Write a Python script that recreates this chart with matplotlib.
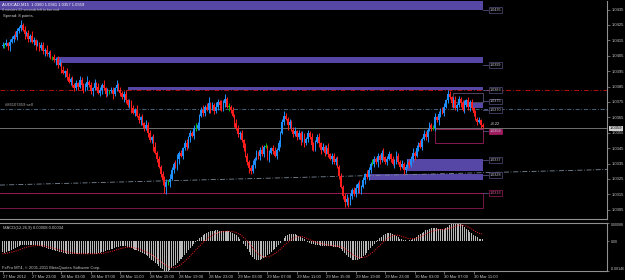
import matplotlib

matplotlib.use("Agg")

import matplotlib.pyplot as plt
import matplotlib.transforms as mtransforms
import numpy as np
from matplotlib.patches import Rectangle

W, H = 625, 280

# AUDCAD M15 bars, prices in pips above 1.0300 (open = previous close)
first_open = 111
closes = [
    112, 112, 113, 111, 114, 116, 118, 117, 121, 123,
    125, 122, 119, 120, 116, 118, 114, 115, 112, 113,
    110, 112, 108, 109, 106, 107, 104, 104, 102, 103,
    99, 100, 96, 94, 95, 91, 88, 90, 86, 84,
    87, 85, 89, 86, 83, 85, 88, 86, 82, 84,
    87, 85, 81, 83, 86, 84, 80, 82, 82, 83,
    80, 84, 86, 83, 81, 78, 80, 76, 73, 75,
    71, 68, 70, 66, 63, 65, 61, 58, 60, 55,
    50, 52, 46, 42, 38, 33, 28, 24, 20, 23,
    23, 25, 31, 35, 33, 38, 42, 40, 45, 48,
    46, 52, 55, 53, 58, 58, 60, 66, 70, 68,
    72, 70, 74, 71, 73, 69, 72, 75, 73, 70,
    74, 77, 72, 72, 70, 66, 61, 58, 54, 55,
    50, 45, 40, 36, 32, 30, 34, 38, 42, 40,
    44, 41, 46, 46, 39, 42, 45, 43, 40, 44,
    48, 55, 62, 66, 64, 60, 62, 57, 54, 56,
    52, 55, 50, 53, 48, 51, 55, 52, 47, 45,
    49, 52, 48, 44, 46, 42, 45, 41, 38, 40,
    36, 38, 33, 27, 20, 14, 10, 12, 9, 14,
    18, 15, 19, 22, 17, 20, 24, 28, 26, 31,
    35, 35, 38, 36, 40, 37, 42, 39, 36, 38,
    41, 38, 35, 37, 40, 36, 33, 35, 31, 33,
    36, 34, 38, 42, 40, 45, 48, 46, 51, 54,
    52, 57, 60, 58, 58, 65, 63, 67, 70, 68,
    72, 76, 80, 78, 74, 76, 71, 73, 77, 74,
    70, 73, 76, 72, 75, 71, 68, 64, 62, 63,
    60, 59,
]
wick_up = [
    2, 1, 3, 1, 2, 2, 1, 3, 2, 1, 3, 1, 2, 1, 2, 1, 3, 2, 1, 2,
    1, 2, 2, 1, 3, 1, 2, 1, 2, 1, 2, 3, 1, 2, 1, 2, 3, 1, 2, 1,
    2, 1, 3, 2, 1, 2, 4, 1, 2, 1, 3, 1, 2, 2, 1, 3, 1, 2, 1, 2,
    2, 1, 3, 1, 2, 1, 2, 3, 1, 2, 1, 2, 1, 3, 2, 1, 2, 1, 3, 2,
    2, 1, 2, 3, 1, 2, 1, 2, 3, 2, 1, 3, 2, 1, 2, 3, 1, 2, 1, 2,
    3, 1, 2, 1, 2, 3, 2, 1, 2, 3, 1, 2, 4, 1, 2, 1, 3, 2, 1, 3,
    2, 3, 1, 2, 1, 2, 1, 3, 2, 1, 2, 1, 3, 2, 1, 2, 3, 1, 2, 1,
    2, 3, 1, 2, 1, 2, 1, 2, 3, 1, 2, 1, 2, 3, 2, 1, 2, 1, 2, 3,
    1, 2, 1, 3, 2, 1, 2, 1, 3, 2, 1, 2, 3, 1, 2, 1, 2, 3, 1, 2,
    2, 1, 2, 1, 2, 1, 2, 3, 1, 2, 1, 2, 3, 1, 2, 1, 2, 1, 3, 2,
    1, 3, 2, 1, 2, 1, 2, 3, 1, 2, 2, 1, 2, 1, 3, 2, 1, 2, 1, 2,
    2, 1, 2, 3, 1, 2, 1, 2, 1, 3, 2, 1, 2, 1, 2, 3, 1, 2, 1, 2,
    2, 1, 3, 2, 1, 2, 3, 1, 2, 1, 2, 3, 1, 2, 1, 2, 1, 2, 1, 2,
    1, 1,
]
wick_dn = [
    1, 2, 1, 2, 3, 1, 2, 1, 2, 1, 2, 1, 3, 1, 2, 2, 1, 2, 3, 1,
    2, 1, 2, 3, 1, 2, 1, 2, 1, 3, 2, 1, 2, 1, 3, 2, 1, 2, 1, 2,
    1, 2, 1, 3, 2, 1, 2, 1, 2, 3, 1, 2, 1, 2, 3, 1, 2, 1, 2, 1,
    3, 1, 2, 1, 2, 1, 3, 2, 1, 2, 3, 1, 2, 1, 2, 3, 1, 2, 1, 3,
    1, 2, 3, 1, 2, 1, 2, 3, 4, 5, 2, 3, 1, 2, 1, 2, 3, 1, 2, 1,
    2, 1, 3, 1, 2, 2, 1, 3, 1, 2, 2, 1, 2, 3, 1, 2, 1, 2, 3, 1,
    1, 2, 1, 3, 2, 1, 2, 1, 2, 3, 1, 2, 1, 2, 3, 2, 1, 2, 1, 2,
    3, 1, 2, 1, 2, 3, 1, 2, 1, 2, 1, 2, 1, 2, 1, 3, 2, 1, 2, 1,
    2, 1, 3, 1, 2, 1, 2, 1, 3, 2, 2, 1, 2, 3, 1, 2, 1, 2, 1, 3,
    1, 2, 1, 2, 1, 2, 3, 2, 2, 1, 2, 1, 2, 3, 1, 2, 1, 2, 1, 2,
    2, 1, 2, 1, 3, 2, 1, 2, 1, 2, 1, 2, 1, 3, 2, 1, 2, 1, 3, 2,
    1, 2, 1, 2, 3, 1, 2, 1, 2, 1, 2, 3, 1, 2, 1, 2, 1, 3, 2, 1,
    2, 1, 2, 1, 2, 3, 1, 2, 1, 2, 1, 2, 1, 2, 3, 1, 2, 1, 2, 1,
    2, 1,
]

# MACD(12,26,9) main and signal, units of 0.00001
macd_main = [
    -55, -56, -52, -50, -47, -44, -40, -36, -30, -25,
    -20, -18, -17, -17, -18, -18, -19, -20, -21, -22,
    -24, -26, -28, -31, -34, -37, -40, -42, -45, -47,
    -50, -52, -55, -58, -60, -62, -63, -64, -64, -65,
    -64, -63, -62, -61, -62, -62, -61, -60, -61, -62,
    -62, -61, -60, -58, -55, -52, -49, -46, -43, -40,
    -37, -34, -30, -28, -26, -24, -23, -24, -27, -30,
    -34, -38, -42, -46, -50, -54, -58, -63, -68, -74,
    -82, -90, -98, -106, -114, -122, -130, -138, -144, -146,
    -144, -140, -132, -124, -115, -106, -96, -86, -76, -66,
    -56, -46, -36, -26, -16, -6, 4, 14, 22, 30,
    36, 41, 45, 48, 50, 51, 52, 52, 51, 50,
    50, 51, 50, 47, 44, 40, 35, 28, 20, 10,
    0, -12, -26, -40, -55, -68, -80, -88, -93, -94,
    -92, -88, -82, -76, -70, -62, -54, -46, -38, -30,
    -20, -10, 2, 14, 24, 30, 34, 36, 35, 33,
    30, 26, 20, 14, 8, 2, -4, -8, -12, -15,
    -18, -20, -21, -22, -22, -23, -24, -25, -26, -26,
    -27, -28, -30, -34, -40, -48, -58, -68, -76, -84,
    -90, -93, -94, -92, -88, -82, -74, -66, -56, -46,
    -36, -26, -16, -6, 4, 14, 22, 30, 36, 40,
    41, 40, 36, 30, 24, 18, 12, 8, 5, 3,
    2, 3, 6, 10, 16, 22, 28, 34, 40, 46,
    52, 56, 60, 62, 64, 64, 62, 60, 58, 57,
    58, 62, 68, 76, 82, 86, 88, 88, 86, 82,
    76, 68, 60, 52, 44, 38, 30, 24, 18, 12,
    10, 8,
]
macd_signal = [
    -62, -61, -60, -58, -56, -54, -52, -49, -46, -43,
    -40, -36, -33, -30, -28, -26, -24, -23, -22, -22,
    -22, -23, -24, -25, -27, -29, -31, -33, -36, -38,
    -41, -43, -46, -48, -50, -53, -55, -57, -58, -60,
    -61, -61, -62, -62, -62, -62, -62, -62, -62, -62,
    -62, -62, -61, -61, -60, -59, -57, -55, -53, -51,
    -48, -46, -43, -40, -37, -35, -33, -31, -30, -30,
    -31, -32, -34, -36, -39, -42, -45, -48, -52, -56,
    -61, -67, -73, -79, -86, -93, -100, -107, -114, -120,
    -125, -128, -130, -130, -128, -125, -120, -114, -107, -99,
    -91, -82, -73, -63, -54, -44, -34, -25, -16, -7,
    1, 9, 16, 22, 28, 33, 37, 40, 43, 45,
    46, 47, 48, 48, 47, 46, 44, 41, 37, 32,
    26, 18, 10, 0, -10, -22, -33, -44, -54, -62,
    -69, -74, -77, -78, -78, -76, -72, -67, -61, -55,
    -48, -40, -32, -23, -14, -6, 2, 9, 14, 18,
    21, 22, 22, 21, 18, 15, 11, 7, 3, -1,
    -4, -7, -10, -12, -14, -16, -18, -19, -21, -22,
    -23, -24, -25, -27, -29, -32, -37, -43, -50, -57,
    -64, -70, -75, -79, -81, -81, -80, -78, -74, -69,
    -63, -56, -48, -40, -31, -22, -13, -4, 4, 12,
    18, 23, 27, 28, 29, 28, 26, 23, 20, 17,
    14, 12, 11, 11, 12, 14, 17, 21, 25, 29,
    34, 38, 42, 46, 49, 52, 54, 55, 56, 56,
    57, 58, 60, 62, 65, 68, 72, 75, 77, 78,
    78, 76, 73, 69, 64, 59, 53, 47, 42, 38,
    36, 34,
]

time_labels = [
    "27 Mar 2012", "27 Mar 23:00", "28 Mar 03:00", "28 Mar 07:00", "28 Mar 11:00",
    "28 Mar 15:00", "28 Mar 19:00", "28 Mar 23:00", "29 Mar 03:00", "29 Mar 07:00",
    "29 Mar 11:00", "29 Mar 15:00", "29 Mar 19:00", "29 Mar 23:00", "30 Mar 03:00",
    "30 Mar 07:00", "30 Mar 11:00",
]
price_ticks = [1.0435, 1.0425, 1.0415, 1.0405, 1.0395, 1.0385, 1.0375,
               1.0365, 1.0355, 1.0345, 1.0335, 1.0325, 1.0315, 1.0305]
macd_ticks = [0.00088, 0.0, -0.00146]
macd_tick_labels = ["0.00088", "0.00", "-0.00146"]

# supply / demand zones: start bar, low, high
zone_start = [-2, 29.6, 68.2, 199.7, 219.8, 255.2]
zone_low = [1.0435, 1.0400, 1.0383, 1.0324, 1.0330, 1.0371]
zone_high = [1.0444, 1.0404, 1.0385, 1.0328, 1.0338, 1.0374]
box_start = [244.8, 235.0, -2]
box_low = [1.0375, 1.03486, 1.03058]
box_high = [1.03808, 1.03574, 1.03158]
zone_end = 261.2
level_prices = [1.04347, 1.0399, 1.03827, 1.03753, 1.03697, 1.03558, 1.03373, 1.03276, 1.03158]
level_texts = ["1.0435", "1.0399", "1.0383", "1.0375", "1.0370", "1.0356", "1.0337", "1.0328", "1.0316"]
sr_level = 1.03827
order_level = 1.03704
bid_price = 1.03578
trend_from = (-1.36, 1.03210)
trend_to = (328.5, 1.03311)

plt.rcParams["font.family"] = ["Liberation Sans", "DejaVu Sans"]
FS = 3.0
GRAY = "#a8a8a8"
PURPLE = "#5646a6"


def box(x0, y0, x1, y1):
    return [x0 / W, 1 - y1 / H, (x1 - x0) / W, (y1 - y0) / H]


def ftext(x, y, s, size=FS, **kw):
    fig.text(x / W, 1 - y / H, s, va="center", ha="left", fontsize=size, **kw)


def price_at(y):
    return 1.0435 - (y - 9.5) / 15400


fig = plt.figure(figsize=(W / 100, H / 100), dpi=100, facecolor="black")

ax = fig.add_axes(box(0, 1, 607, 219))
ax.set_facecolor("black")
ax.set_xlim(-1.36, 328.5)
ax.set_ylim(price_at(219), price_at(1))

n = len(closes)
x = np.arange(n)
c = 1.03 + np.array(closes) / 1e4
o = 1.03 + np.array([first_open] + closes[:-1]) / 1e4
top = np.maximum(o, c)
bot = np.minimum(o, c)
hi = top + np.array(wick_up) / 1e4
lo = bot - np.array(wick_dn) / 1e4
cols = np.where(c > o, "#1e8fff", np.where(c < o, "#ff1e1e", "#00c000"))

for s, lo_, hi_ in zip(zone_start, zone_low, zone_high):
    ax.add_patch(Rectangle((s, lo_), zone_end - s, hi_ - lo_, facecolor=PURPLE, edgecolor="none", zorder=1))
box_colors = ["#5a5070", "#9a1e5e", "#8a1a50"]
for s, lo_, hi_, bc in zip(box_start, box_low, box_high, box_colors):
    ax.add_patch(Rectangle((s, lo_), zone_end - s, hi_ - lo_, facecolor="none", edgecolor=bc, lw=0.6, zorder=1))
ax.plot([-2, zone_end], [box_high[2], box_high[2]], color="#c02070", lw=0.6, ls=(0, (1, 1)), zorder=1)

ax.axhline(sr_level, color="#b01010", lw=0.7, ls=(0, (5, 2, 1, 2)), zorder=2)
ax.axhline(order_level, color="#4f7090", lw=0.6, ls=(0, (5, 2, 1, 2)), zorder=2)
ax.axhline(bid_price, color="#707070", lw=0.7, zorder=2)
ax.plot([trend_from[0], trend_to[0]], [trend_from[1], trend_to[1]], color="#7a8a9a", lw=0.6,
        ls=(0, (6, 2, 1, 2)), zorder=2)

ax.vlines(x, lo, hi, colors=cols, lw=0.7, zorder=3)
ax.bar(x, np.maximum(top - bot, 0.00003), bottom=bot, width=0.85, color=cols, lw=0, zorder=3)

lab_edge = ["#6a62a0", "#6a62a0", "#6a62a0", "#6a62a0", "#6a62a0", "#c02070", "#6a62a0", "#6a62a0", "#c02070"]
for p, t, ec in zip(level_prices, level_texts, lab_edge):
    ax.plot([zone_end, 264.0], [p, p], color="#6a62a0", lw=0.5, zorder=2)
    face = "#a01e60" if t == "1.0356" else "black"
    tc = "#e060a0" if t == "1.0316" else "#c8c8d8"
    ax.text(264.6, p, t, fontsize=FS * 0.9, color=tc, va="center", ha="left", zorder=5,
            bbox=dict(facecolor=face, edgecolor=ec, lw=0.4, pad=0.5))
ax.text(264.6, price_at(124), "+8.22", fontsize=FS, color="#d8d8d8", va="center", ha="left")
ax.text(1.4, price_at(105.5), "#86107459 sell", fontsize=FS, color=GRAY, va="center", ha="left")

for side in ["top", "left"]:
    ax.spines[side].set_visible(False)
ax.spines["right"].set_color("#909090")
ax.spines["bottom"].set_color("#909090")
ax.spines["right"].set_linewidth(0.8)
ax.spines["bottom"].set_linewidth(0.8)
ax.set_xticks([])
ax.yaxis.tick_right()
ax.set_yticks(price_ticks)
ax.set_yticklabels([f"{p:.4f}" for p in price_ticks])
ax.tick_params(axis="y", colors="#909090", labelcolor="#c8c8c8", labelsize=FS, length=2, width=0.5, pad=1.5)

trans = mtransforms.blended_transform_factory(ax.transAxes, ax.transData)
ax.text(1.0 + 3 / 607, bid_price, "1.0359", transform=trans, fontsize=FS, color="black",
        va="center", ha="left", zorder=6, clip_on=False,
        bbox=dict(facecolor="#d0d0d0", edgecolor="none", pad=0.4))

ftext(2, 4.5, "AUDCAD,M15  1.0360 1.0361 1.0357 1.0359", color="white")
ftext(2, 10, "8 minutes 22 seconds left to bar end", size=FS * 0.85, color="#b0b0b0")
ftext(3, 16, "Spread: 8 points.", color="#d0d0d0")

# MACD window
ax2 = fig.add_axes(box(0, 223, 607, 271))
ax2.set_facecolor("black")
ax2.set_xlim(-1.36, 328.5)
ax2.set_ylim(-0.00146, 0.00088)
ax2.bar(x, np.array(macd_main) * 1e-5, width=0.55, color="#b8b8b8", lw=0)
ax2.plot(x, np.array(macd_signal) * 1e-5, color="#ff2020", lw=0.7, ls=(0, (1, 1.3)))
ax2.spines["left"].set_visible(False)
for side in ["top", "right", "bottom"]:
    ax2.spines[side].set_color("#909090")
    ax2.spines[side].set_linewidth(0.8)
ax2.yaxis.tick_right()
ax2.set_yticks(macd_ticks)
ax2.set_yticklabels(macd_tick_labels)
ax2.tick_params(axis="y", colors="#909090", labelcolor="#c8c8c8", labelsize=FS * 0.85, length=1.5,
                width=0.5, pad=1.0)
yl = ax2.get_yticklabels()
yl[0].set_va("top")
yl[2].set_va("bottom")
ax2.set_xticks(np.arange(len(time_labels)) * 16)
ax2.set_xticklabels(time_labels, ha="left")
ax2.tick_params(axis="x", colors="#909090", labelcolor="#c8c8c8", labelsize=FS, length=2, width=0.5, pad=1.0)

ftext(3, 228, "MACD(12,26,9) 0.00008 0.00034", color="#c8c8c8")
ftext(2, 267.5, "FxPro MT4, \u00a9 2001-2011 MetaQuotes Software Corp.", color="#c8c8c8")

fig.savefig("out.png", dpi=100, facecolor="black")
